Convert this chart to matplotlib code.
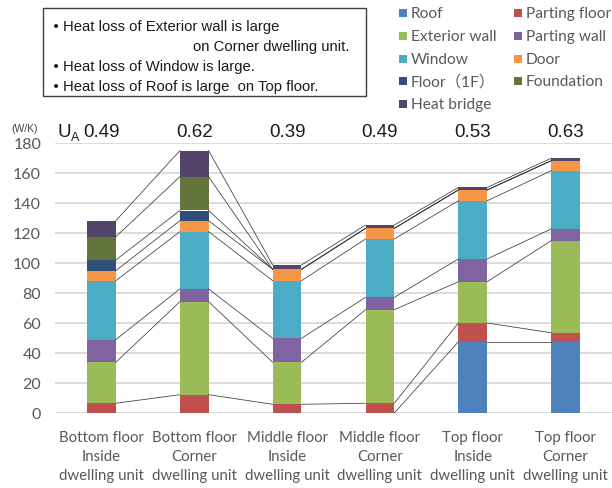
import matplotlib
matplotlib.use("Agg")
import matplotlib.pyplot as plt
from matplotlib.patches import Rectangle
import numpy as np

categories = ["Bottom floor\nInside\ndwelling unit", "Bottom floor\nCorner\ndwelling unit",
              "Middle floor\nInside\ndwelling unit", "Middle floor\nCorner\ndwelling unit",
              "Top floor\nInside\ndwelling unit", "Top floor\nCorner\ndwelling unit"]
ua_values = ["0.49", "0.62", "0.39", "0.49", "0.53", "0.63"]

series_names = ["Roof", "Parting floor", "Exterior wall", "Parting wall", "Window",
                "Door", "Floor（1F）", "Foundation", "Heat bridge"]
series_colors = ["#4F81BD", "#C0504D", "#9BBB59", "#8064A2", "#4BACC6",
                 "#F79646", "#2F4E78", "#63753A", "#544469"]

roof          = [0.0, 0.0, 0.0, 0.0, 47.5, 47.5]
parting_floor = [6.5, 12.2, 5.8, 6.5, 12.5, 6.0]
exterior_wall = [27.3, 62.0, 28.0, 62.4, 27.5, 61.4]
parting_wall  = [15.1, 8.5, 16.0, 8.2, 15.2, 7.8]
window        = [39.3, 38.2, 38.4, 38.9, 38.8, 38.8]
door          = [6.7, 7.3, 7.6, 7.1, 7.2, 6.7]
floor_1f      = [7.1, 6.8, 0.0, 0.0, 0.0, 0.0]
foundation    = [15.5, 22.5, 0.0, 0.0, 0.0, 0.0]
heat_bridge   = [10.7, 17.4, 2.9, 2.2, 1.7, 1.6]

series = [roof, parting_floor, exterior_wall, parting_wall, window,
          door, floor_1f, foundation, heat_bridge]

yticks = [0, 20, 40, 60, 80, 100, 120, 140, 160, 180]

notes = [("・", "Heat loss of Exterior wall is large"),
         ("", "on Corner dwelling unit."),
         ("・", "Heat loss of Window is large."),
         ("・", "Heat loss of Roof is large  on Top floor.")]

W, H = 612, 489
fig = plt.figure(figsize=(W / 100, H / 100), dpi=100)

def fx(x):
    return x / W

def fy(y):
    return 1 - y / H

ax = fig.add_axes([fx(55), fy(414), 557 / W, 270 / H])
x = np.arange(len(categories))
bw = 0.31
bottom = np.zeros(len(categories))
cum = []
for vals, col in zip(series, series_colors):
    v = np.array(vals)
    ax.bar(x, v, bw, bottom=bottom, color=col, zorder=3, linewidth=0)
    bottom = bottom + v
    cum.append(bottom.copy())

# series lines connecting stacked tops
for c in cum:
    for i in range(len(categories) - 1):
        ax.plot([x[i] + bw / 2, x[i + 1] - bw / 2], [c[i], c[i + 1]],
                color="#3a3a3a", lw=0.55, zorder=4)

ax.set_xlim(-0.5, 5.5)
ax.set_ylim(0, 180)
ax.set_yticks(yticks)
ax.set_xticks(x)
ax.set_xticklabels(categories, fontsize=10.8, family="Lato", color="#595959",
                   linespacing=1.45)
ax.tick_params(axis="y", labelsize=11.5, labelcolor="#595959", length=0, pad=10)
ax.tick_params(axis="x", length=0, pad=12)
for lab in ax.get_yticklabels():
    lab.set_family("Lato")
ax.grid(axis="y", color="#D9D9D9", lw=1.3, zorder=0)
for s in ax.spines.values():
    s.set_visible(False)

# UA labels
for i, v in enumerate(ua_values):
    ax.text(x[i], 187.5, v, ha="center", va="center", fontsize=13.5,
            family="Liberation Sans", color="#1a1a1a")
ax.text(-0.475, 187.5, "U", ha="left", va="center", fontsize=13.5,
        family="Liberation Sans", color="#1a1a1a")
ax.text(-0.33, 184.0, "A", ha="left", va="center", fontsize=9,
        family="Liberation Sans", color="#1a1a1a")

fig.text(fx(25), fy(129), "(W/K)", ha="center", va="center", fontsize=7.5,
         family="Liberation Sans", color="#404040")

# annotation box
fig.patches.append(Rectangle((fx(43), fy(97)), (366 - 43) / W, (97 - 9) / H,
                             transform=fig.transFigure, fill=False,
                             edgecolor="#404040", lw=1.0))
line_y = [27, 47, 67, 87]
for (bullet, txt), ly in zip(notes, line_y):
    if bullet:
        fig.text(fx(56), fy(ly), bullet, ha="center", va="center", fontsize=11.5,
                 family="Noto Sans CJK JP", color="#1a1a1a", weight="bold")
        fig.text(fx(63), fy(ly), txt, ha="left", va="center", fontsize=10.7,
                 family="Liberation Sans", color="#1a1a1a")
    else:
        fig.text(fx(193), fy(ly), txt, ha="left", va="center", fontsize=10.7,
                 family="Liberation Sans", color="#1a1a1a")

# legend (row-wise, two columns)
leg_fam = ["Lato", "Noto Sans CJK JP"]
for k, (name, col) in enumerate(zip(series_names, series_colors)):
    r, c = divmod(k, 2)
    lx = 399 if c == 0 else 514
    ly = 14 + r * 22.8
    fig.patches.append(Rectangle((fx(lx), fy(ly + 4)), 8 / W, 8 / H,
                                 transform=fig.transFigure, color=col, lw=0))
    fig.text(fx(lx + 12), fy(ly), name, ha="left", va="center", fontsize=11.2,
             family=leg_fam, color="#595959")

fig.savefig("out.png", dpi=100)
